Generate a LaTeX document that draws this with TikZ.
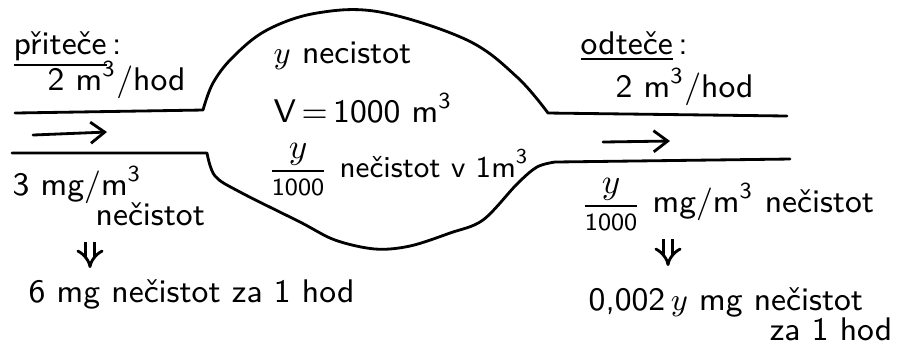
\documentclass[tikz,border=0pt]{standalone}
\usepackage{amsmath}
\usetikzlibrary{arrows.meta}

\tikzset{
  popis/.style={font=\sffamily\fontsize{9.3}{11}\selectfont, inner sep=0pt, anchor=base west},
  stena/.style={thick, line cap=round, line join=round},
  tok/.style={thick, line cap=round, -{Straight Barb[length=4pt,width=6pt]}},
  dusledek/.style={thick, double, double distance=1.8pt, -{Implies[length=3pt]}},
}
\newcommand{\zlomek}{{\fontsize{7.5}{8}\selectfont$\dfrac{\text{\fontsize{10}{10}\selectfont$y$}}{\mathsf{1000}}$}}

\begin{document}
\begin{tikzpicture}[x=0.01cm, y=-0.01cm]
\useasboundingbox (0,0) rectangle (897,347);

% Nadrz s pritokem a odtokem
\draw[stena] (15,113) -- plot[smooth, tension=0.6] coordinates {(203,110) (213,83) (233,57) (267,30) (317,13) (380,12) (467,40) (517,77) (548,113)} -- (787,116);
\draw[stena] (12,153) -- plot[smooth, tension=0.55] coordinates {(207,153) (215,176) (240,192) (300,222) (335,240) (375,249) (410,246) (450,233) (483,220) (517,184) (537,167) (555,162)} -- (790,159);

% Smer toku
\draw[tok] (33,135) -- (107,132);
\draw[tok] (603,142) -- (670,141);

% Pritok
\node[popis] (pritece) at (13,54) {\underline{přiteče}\,:};
\node[popis] (prutokL) at (47,90) {2 m\textsuperscript{3}/hod};
\node[popis] (vstupC) at (12,195) {3 mg/m\textsuperscript{3}};
\node[popis] (vstupN) at (95,225) {nečistot};
\node[popis] (vstupZa) at (28,302) {6 mg nečistot za 1 hod};

% Nadrz
\node[popis] (mnozstvi) at (273,63) {$y$ necistot};
\node[popis] (objem) at (273,122) {V\,=\,1000 m\textsuperscript{3}};
\node[popis] (konc) at (267,177) {\zlomek\ {\fontsize{8.6}{10}\selectfont nečistot v 1m\textsuperscript{3}}};

% Odtok
\node[popis] (odtece) at (580,54) {\underline{odteče}\,:};
\node[popis] (prutokR) at (615,97) {2 m\textsuperscript{3}/hod};
\node[popis] (vystupC) at (580,212) {\zlomek\ mg/m\textsuperscript{3} nečistot};
\node[popis] (vystupZa) at (588,310) {0,002\,$y$ mg nečistot};
\node[popis, anchor=base east] (vystupH) at (893,340) {za 1 hod};

% Dusledky
\coordinate (sipkaLa) at (90,242);
\coordinate (sipkaLb) at (90,268);
\coordinate (sipkaRa) at (668,239);
\coordinate (sipkaRb) at (668,266);
\draw[dusledek] (sipkaLa) -- (sipkaLb);
\draw[dusledek] (sipkaRa) -- (sipkaRb);

\end{tikzpicture}
\end{document}
